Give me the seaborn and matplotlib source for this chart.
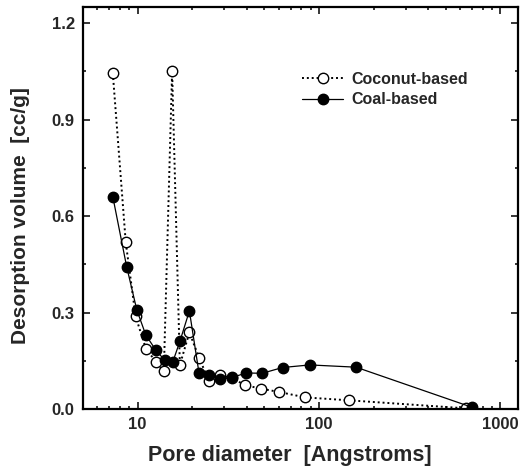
import matplotlib
matplotlib.use("Agg")
import matplotlib.pyplot as plt
import matplotlib.ticker as mticker
import numpy as np
import pandas as pd
import seaborn as sns

# pore diameter [Angstroms] and desorption volume [cc/g]
coconut_d = [7.3, 8.6, 9.75, 11.1, 12.7, 13.95, 15.5, 17.1, 19.3, 21.8, 24.7, 28.5,
             33.1, 39.2, 48.0, 60.2, 84.0, 146.0, 645.0]
coconut_v = [1.044, 0.519, 0.288, 0.188, 0.145, 0.117, 1.052, 0.137, 0.238, 0.160,
             0.088, 0.105, 0.096, 0.074, 0.063, 0.053, 0.036, 0.027, 0.002]
coal_d = [7.3, 8.7, 9.9, 11.1, 12.6, 14.1, 15.6, 17.1, 19.3, 21.8, 24.9, 28.5,
          33.1, 39.7, 48.6, 63.0, 89.0, 160.0, 700.0]
coal_v = [0.660, 0.443, 0.308, 0.230, 0.183, 0.152, 0.145, 0.210, 0.305, 0.112,
          0.105, 0.092, 0.098, 0.112, 0.111, 0.129, 0.137, 0.130, 0.005]

coconut = pd.DataFrame({"d": coconut_d, "v": coconut_v})
coal = pd.DataFrame({"d": coal_d, "v": coal_v})

sns.set_style("ticks")
plt.rcParams["font.family"] = ["Liberation Sans", "DejaVu Sans"]
plt.rcParams["font.weight"] = "bold"

fig = plt.figure(figsize=(5.2, 4.72), dpi=100)
ax = fig.add_axes([0.1596, 0.1335, 0.8365, 0.8517])

sns.lineplot(data=coconut, x="d", y="v", ax=ax, sort=False, estimator=None,
             color="black", linestyle=(0, (1, 1.5)), linewidth=1.4, marker="o",
             markersize=7.5, markerfacecolor="white", markeredgecolor="black",
             markeredgewidth=1.0, label="Coconut-based")
sns.lineplot(data=coal, x="d", y="v", ax=ax, sort=False, estimator=None,
             color="black", linestyle="-", linewidth=0.9, marker="o",
             markersize=7.5, markerfacecolor="black", markeredgecolor="black",
             markeredgewidth=1.0, label="Coal-based")

ax.set_xscale("log")
ax.set_xlim(5, 1250)
ax.set_ylim(0, 1.25)
ax.xaxis.set_major_locator(mticker.LogLocator(base=10))
ax.xaxis.set_minor_locator(mticker.LogLocator(base=10, subs=np.arange(2, 10)))
ax.xaxis.set_major_formatter(mticker.FuncFormatter(lambda v, p: f"{v:g}"))
ax.xaxis.set_minor_formatter(mticker.NullFormatter())
ax.yaxis.set_major_locator(mticker.MultipleLocator(0.3))
ax.yaxis.set_minor_locator(mticker.MultipleLocator(0.15))
ax.yaxis.set_major_formatter(mticker.FormatStrFormatter("%.1f"))

for s in ax.spines.values():
    s.set_visible(True)
    s.set_linewidth(1.6)
    s.set_color("black")
ax.tick_params(which="both", direction="in", top=True, right=True,
               width=1.1, color="black", labelsize=12, pad=6)
ax.tick_params(which="major", length=5)
ax.tick_params(which="minor", length=2.5)
for lab in ax.get_xticklabels() + ax.get_yticklabels():
    lab.set_fontweight("bold")

ax.set_xlabel("Pore diameter  [Angstroms]", fontsize=15.5, fontweight="bold")
ax.set_ylabel("Desorption volume  [cc/g]", fontsize=15, fontweight="bold")
ax.xaxis.set_label_coords(0.476, -0.09)
ax.yaxis.set_label_coords(-0.122, 0.48)

leg = ax.legend(loc="upper left", bbox_to_anchor=(0.47, 0.875), frameon=False,
                handlelength=2.6, handletextpad=0.5,
                labelspacing=0.35, prop={"weight": "bold", "size": 11.5})

fig.savefig("out.png", dpi=100)
